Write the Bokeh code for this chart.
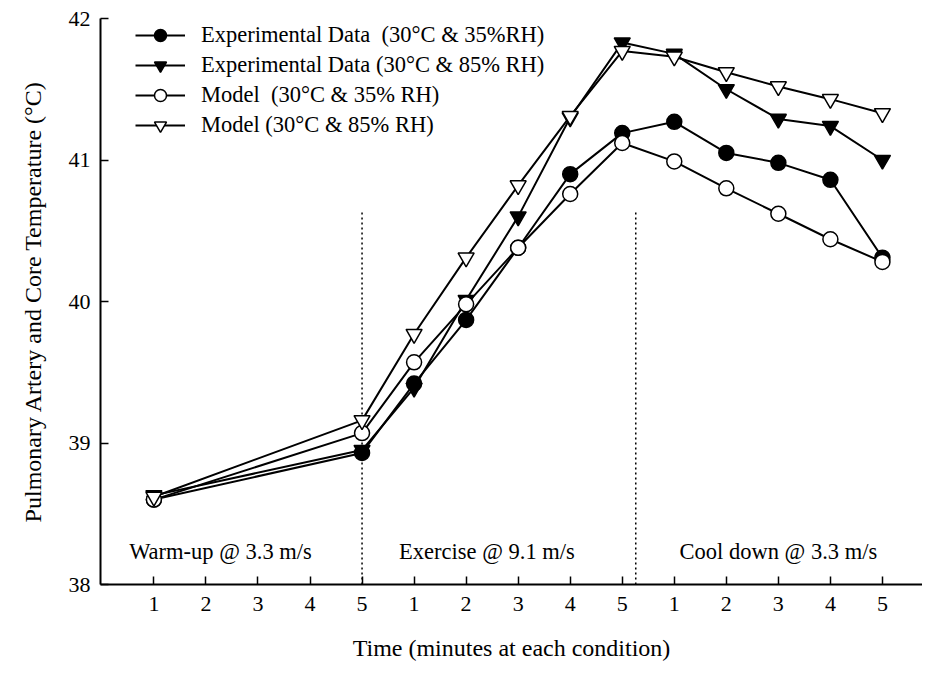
from bokeh.plotting import figure
from bokeh.models import FixedTicker, Range1d
from bokeh.core.properties import value
from bokeh.embed import file_html
from bokeh.resources import INLINE

# ---- data ----
minutes = [1, 5, 6, 7, 8, 9, 10, 11, 12, 13, 14, 15]
exp_35rh = [38.60, 38.93, 39.42, 39.87, 40.38, 40.90, 41.19, 41.27, 41.05, 40.98, 40.86, 40.31]
exp_85rh = [38.63, 38.95, 39.39, 40.01, 40.60, 41.30, 41.83, 41.75, 41.50, 41.29, 41.24, 41.00]
model_35rh = [38.60, 39.07, 39.57, 39.98, 40.38, 40.76, 41.12, 40.99, 40.80, 40.62, 40.44, 40.28]
model_85rh = [38.62, 39.16, 39.77, 40.31, 40.82, 41.31, 41.77, 41.73, 41.62, 41.52, 41.43, 41.33]

series_names = [
    "Experimental Data  (30°C & 35%RH)",
    "Experimental Data (30°C & 85% RH)",
    "Model  (30°C & 35% RH)",
    "Model (30°C & 85% RH)",
]

x_ticks = list(range(1, 16))
x_tick_labels = ["1", "2", "3", "4", "5", "1", "2", "3", "4", "5", "1", "2", "3", "4", "5"]
y_ticks = [38, 39, 40, 41, 42]

phase_labels = ["Warm-up @ 3.3 m/s", "Exercise @ 9.1 m/s", "Cool down @ 3.3 m/s"]
phase_x = [2.28, 7.40, 13.0]
phase_y = [38.23, 38.23, 38.23]

divider_x = [5.0, 10.26]
divider_bottom = [38.0, 38.0]
divider_top = [40.64, 40.64]

FONT = "Liberation Serif"

p = figure(width=922, height=673, output_backend="svg", toolbar_location=None,
           x_range=Range1d(-0.026, 15.77), y_range=Range1d(38, 42),
           min_border_left=100, min_border_top=18, min_border_bottom=89, min_border_right=0)
p.outline_line_color = None
p.xgrid.visible = False
p.ygrid.visible = False
p.background_fill_color = "white"
p.border_fill_color = "white"

# axes
p.xaxis.ticker = FixedTicker(ticks=x_ticks)
p.xaxis.major_label_overrides = {t: l for t, l in zip(x_ticks, x_tick_labels)}
p.yaxis.ticker = FixedTicker(ticks=y_ticks)
for ax in (p.xaxis, p.yaxis):
    ax.major_tick_in = 8
    ax.major_tick_out = 0
    ax.minor_tick_line_color = None
    ax.major_tick_line_color = "black"
    ax.major_tick_line_width = 1.5
    ax.axis_line_color = "black"
    ax.axis_line_width = 2
    ax.major_label_text_font = FONT
    ax.major_label_text_font_size = "22px"
    ax.major_label_text_color = "black"
    ax.axis_label_text_font = FONT
    ax.axis_label_text_font_size = "24px"
    ax.axis_label_text_font_style = "normal"
    ax.axis_label_text_color = "black"
p.xaxis.major_label_standoff = 12
p.yaxis.major_label_standoff = 10
p.xaxis.axis_label = "Time (minutes at each condition)"
p.yaxis.axis_label = "Pulmonary Artery and Core Temperature (°C)"
p.xaxis.axis_label_standoff = 21
p.yaxis.axis_label_standoff = 20

# phase dividers
p.segment(x0=divider_x, y0=divider_bottom, x1=divider_x, y1=divider_top,
          line_color="black", line_width=1.5, line_dash="2 3")

# phase labels
p.text(x=phase_x, y=phase_y, text=phase_labels, text_align="center", text_baseline="middle",
       text_font=value(FONT), text_font_size="22.5px", text_color="black")

styles = [
    (exp_35rh, "circle", "black", 15),
    (exp_85rh, "inverted_triangle", "black", 16),
    (model_35rh, "circle", "white", 15),
    (model_85rh, "inverted_triangle", "white", 16),
]
for (vals, marker, fill, size), name in zip(styles, series_names):
    p.line(minutes, vals, line_color="black", line_width=2, legend_label=name)
    p.scatter(minutes, vals, marker=marker, size=size, fill_color=fill, line_color="black",
              line_width=1.5, legend_label=name)

lg = p.legend[0]
lg.location = (35, 444)
lg.margin = 0
lg.padding = 0
lg.spacing = 0
lg.glyph_width = 50
lg.glyph_height = 30
lg.label_standoff = 16
lg.label_height = 30
lg.label_text_font = FONT
lg.label_text_font_size = "22.5px"
lg.label_text_color = "black"
lg.border_line_color = None
lg.background_fill_alpha = 0

open("out.html", "w").write(file_html(p, INLINE))
